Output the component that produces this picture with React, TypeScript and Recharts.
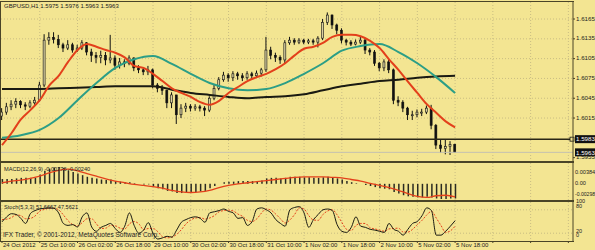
import React from 'react';
import {
  ComposedChart, Bar, Line, XAxis, YAxis, CartesianGrid, ReferenceLine,
} from 'recharts';

// GBPUSD H1, drawn as 2-hour bars (index 0 = 24 Oct 18:00, index 96 = 5 Nov 18:00)
const timeLabels = [
  '24 Oct 2012', '25 Oct 10:00', '26 Oct 02:00', '26 Oct 18:00', '29 Oct 10:00', '30 Oct 02:00',
  '30 Oct 18:00', '31 Oct 10:00', '1 Nov 02:00', '1 Nov 18:00', '2 Nov 10:00', '5 Nov 02:00', '5 Nov 18:00',
];
const labelStep = 8;

const firstOpen = 1.6018;
const closes = [
  1.6024, 1.6032, 1.6036, 1.6040, 1.6035, 1.6033, 1.6038, 1.6042, 1.6065, 1.6133,
  1.6137, 1.6134, 1.6126, 1.6121, 1.6126, 1.6118, 1.6121, 1.6129, 1.6115, 1.6110,
  1.6107, 1.6110, 1.6103, 1.6106, 1.6095, 1.6100, 1.6098, 1.6106, 1.6091, 1.6088,
  1.6085, 1.6088, 1.6065, 1.6060, 1.6057, 1.6038, 1.6050, 1.6020, 1.6030, 1.6033,
  1.6030, 1.6032, 1.6030, 1.6027, 1.6045, 1.6060, 1.6073, 1.6080, 1.6076, 1.6082,
  1.6079, 1.6076, 1.6082, 1.6079, 1.6083, 1.6088, 1.6118, 1.6110, 1.6107, 1.6103,
  1.6129, 1.6133, 1.6130, 1.6133, 1.6130, 1.6132, 1.6130, 1.6136, 1.6160, 1.6171,
  1.6156, 1.6148, 1.6133, 1.6130, 1.6127, 1.6130, 1.6133, 1.6118, 1.6115, 1.6098,
  1.6091, 1.6100, 1.6088, 1.6042, 1.6039, 1.6030, 1.6020, 1.6020, 1.6024, 1.6024,
  1.6030, 1.6004, 1.5974, 1.5969, 1.5972, 1.5975, 1.5963,
];
const highs = [
  1.6030, 1.6038, 1.6042, 1.6045, 1.6042, 1.6039, 1.6042, 1.6047, 1.6070, 1.6142,
  1.6145, 1.6145, 1.6141, 1.6129, 1.6133, 1.6129, 1.6126, 1.6133, 1.6130, 1.6120,
  1.6115, 1.6117, 1.6115, 1.6141, 1.6110, 1.6106, 1.6104, 1.6110, 1.6107, 1.6095,
  1.6092, 1.6094, 1.6090, 1.6068, 1.6065, 1.6058, 1.6054, 1.6050, 1.6036, 1.6038,
  1.6036, 1.6036, 1.6035, 1.6033, 1.6048, 1.6065, 1.6077, 1.6085, 1.6083, 1.6086,
  1.6085, 1.6083, 1.6086, 1.6085, 1.6087, 1.6091, 1.6138, 1.6123, 1.6114, 1.6110,
  1.6133, 1.6138, 1.6136, 1.6136, 1.6135, 1.6135, 1.6135, 1.6139, 1.6165, 1.6175,
  1.6172, 1.6158, 1.6151, 1.6135, 1.6133, 1.6134, 1.6138, 1.6136, 1.6121, 1.6118,
  1.6100, 1.6104, 1.6104, 1.6090, 1.6048, 1.6042, 1.6032, 1.6026, 1.6028, 1.6029,
  1.6034, 1.6035, 1.6006, 1.5982, 1.5982, 1.5980, 1.5976,
];
const lows = [
  1.6012, 1.6020, 1.6027, 1.6030, 1.6030, 1.6027, 1.6030, 1.6035, 1.6040, 1.6062,
  1.6126, 1.6128, 1.6121, 1.6115, 1.6118, 1.6114, 1.6115, 1.6118, 1.6110, 1.6100,
  1.6098, 1.6098, 1.6095, 1.6098, 1.6088, 1.6090, 1.6092, 1.6095, 1.6086, 1.6083,
  1.6080, 1.6080, 1.6060, 1.6054, 1.6050, 1.6030, 1.6030, 1.6006, 1.6015, 1.6024,
  1.6025, 1.6026, 1.6025, 1.6018, 1.6024, 1.6042, 1.6057, 1.6070, 1.6070, 1.6071,
  1.6073, 1.6071, 1.6073, 1.6074, 1.6076, 1.6078, 1.6085, 1.6104, 1.6100, 1.6097,
  1.6098, 1.6126, 1.6126, 1.6127, 1.6127, 1.6127, 1.6126, 1.6122, 1.6133, 1.6156,
  1.6150, 1.6142, 1.6128, 1.6125, 1.6124, 1.6125, 1.6127, 1.6112, 1.6110, 1.6094,
  1.6086, 1.6086, 1.6083, 1.6036, 1.6033, 1.6024, 1.6012, 1.6012, 1.6016, 1.6018,
  1.6021, 1.5998, 1.5968, 1.5962, 1.5960, 1.5959, 1.5963,
];

// moving averages: fast read every 2 bars, mid/slow every 4 bars
const maFast = [
  1.5974, 1.5992, 1.6013, 1.6027, 1.6042, 1.6064, 1.6079, 1.6100, 1.6118, 1.6127,
  1.6123, 1.6118, 1.6114, 1.6107, 1.6094, 1.6091, 1.6082, 1.6071, 1.6060, 1.6053,
  1.6047, 1.6039, 1.6035, 1.6041, 1.6053, 1.6062, 1.6071, 1.6077, 1.6082, 1.6089,
  1.6098, 1.6110, 1.6120, 1.6123, 1.6129, 1.6138, 1.6141, 1.6141, 1.6139, 1.6132,
  1.6121, 1.6104, 1.6088, 1.6070, 1.6053, 1.6036, 1.6023, 1.6010, 1.6001,
];
const maMid = [
  1.5985, 1.5989, 1.5997, 1.6015, 1.6042, 1.6068, 1.6091, 1.6104, 1.6109, 1.6097,
  1.6082, 1.6068, 1.6060, 1.6057, 1.6059, 1.6068, 1.6082, 1.6098, 1.6117, 1.6124,
  1.6127, 1.6115, 1.6098, 1.6077, 1.6053,
];
const maSlow = [
  1.6059, 1.6059, 1.6059, 1.6060, 1.6061, 1.6062, 1.6063, 1.6063, 1.6063, 1.6058,
  1.6053, 1.6050, 1.6047, 1.6045, 1.6047, 1.6048, 1.6051, 1.6057, 1.6063, 1.6067,
  1.6071, 1.6073, 1.6076, 1.6078, 1.6079,
];
const levelLine = 1.5983;
const bidPrice = 1.5963;
const priceTicks = [1.6165, 1.6135, 1.6105, 1.6075, 1.6045, 1.6015, 1.5955];

const macdMain = [
  0.0009, 0.0009, 0.0009, 0.0010, 0.0011, 0.0011, 0.0011, 0.0011, 0.0017, 0.0024,
  0.0028, 0.0030, 0.0031, 0.0029, 0.0025, 0.0022, 0.0019, 0.0016, 0.0013, 0.0011,
  0.0010, 0.0008, 0.0007, 0.0008, 0.0005, 0.0004, 0.0003, 0.0003, 0.0001, 0.0000,
  -0.0001, -0.0001, -0.0005, -0.0008, -0.0010, -0.0013, -0.0014, -0.0017, -0.0017, -0.0016,
  -0.0016, -0.0015, -0.0014, -0.0013, -0.0008, -0.0004, 0.0000, 0.0003, 0.0004, 0.0004,
  0.0005, 0.0005, 0.0005, 0.0005, 0.0005, 0.0006, 0.0010, 0.0011, 0.0011, 0.0010,
  0.0011, 0.0013, 0.0013, 0.0013, 0.0012, 0.0012, 0.0011, 0.0011, 0.0012, 0.0013,
  0.0012, 0.0010, 0.0008, 0.0005, 0.0003, 0.0001, 0.0000, -0.0002, -0.0004, -0.0006,
  -0.0008, -0.0009, -0.0010, -0.0015, -0.0018, -0.0021, -0.0023, -0.0024, -0.0025, -0.0025,
  -0.0024, -0.0025, -0.0027, -0.0028, -0.0028, -0.0027, -0.0027,
];
// signal read every 2 bars
const macdSignal = [
  0.0002, 0.0005, 0.0007, 0.0010, 0.0014, 0.0020, 0.0025, 0.0027, 0.0024, 0.0019,
  0.0014, 0.0009, 0.0005, 0.0002, -0.0001, -0.0003, -0.0005, -0.0008, -0.0012, -0.0015,
  -0.0016, -0.0015, -0.0012, -0.0007, -0.0003, 0.0000, 0.0002, 0.0004, 0.0006, 0.0008,
  0.0010, 0.0012, 0.0013, 0.0013, 0.0013, 0.0012, 0.0011, 0.0008, 0.0005, 0.0001,
  -0.0003, -0.0007, -0.0012, -0.0018, -0.0023, -0.0025, -0.0022, -0.0021, -0.0024,
];
const macdTicks = [0.00384, 0, -0.00298];

const stochMain = [
  49, 62, 70, 68, 58, 45, 70, 78, 82, 84,
  85, 84, 72, 45, 40, 42, 36, 62, 72, 36,
  25, 35, 40, 45, 32, 22, 38, 72, 40, 20,
  28, 47, 20, 5, 8, 12, 10, 28, 48, 55,
  60, 62, 58, 48, 72, 75, 78, 82, 76, 72,
  58, 60, 40, 50, 82, 85, 80, 72, 55, 45,
  38, 80, 86, 88, 72, 35, 55, 68, 80, 82,
  78, 42, 25, 22, 35, 62, 38, 35, 30, 28,
  25, 22, 45, 30, 25, 15, 30, 45, 50, 65,
  85, 78, 15, 15, 25, 38, 52,
];
const stochSignal = [
  55, 56, 60, 67, 65, 57, 58, 64, 77, 81,
  84, 84, 80, 67, 52, 42, 39, 47, 57, 57,
  44, 32, 33, 40, 39, 33, 31, 44, 50, 44,
  29, 32, 32, 24, 11, 8, 10, 17, 29, 44,
  54, 59, 60, 56, 59, 65, 75, 78, 79, 77,
  69, 63, 53, 50, 57, 72, 82, 79, 69, 57,
  46, 54, 68, 85, 82, 65, 54, 53, 68, 77,
  80, 67, 48, 30, 27, 40, 45, 45, 34, 31,
  28, 25, 31, 32, 33, 23, 23, 30, 42, 53,
  67, 76, 59, 40, 22, 26, 38,
];
const stochTicks = [100, 80, 20, 0];

const rows = closes.map((close, i) => ({
  i,
  open: i === 0 ? firstOpen : closes[i - 1],
  high: highs[i],
  low: lows[i],
  close,
  range: [lows[i], highs[i]],
  fast: i % 2 === 0 ? maFast[i / 2] : null,
  mid: i % 4 === 0 ? maMid[i / 4] : null,
  slow: i % 4 === 0 ? maSlow[i / 4] : null,
  macd: macdMain[i],
  signal: i % 2 === 0 ? macdSignal[i / 2] : null,
  k: stochMain[i],
  d: stochSignal[i],
}));

const BG = '#F3E592';
const GRID = '#c9bd83';
const FRAME = '#4a4427';
const RED = '#E3401B';
const TEAL = '#2C9E86';
const FONT = '"Liberation Sans", Arial, sans-serif';
const W = 595;
const AXIS_W = 22;
const xDomain: [number, number] = [-0.21, 120.98];
const gridX = Array.from({ length: 16 }, (_, k) => k * labelStep);

const Candle = (props: any) => {
  const { x, y, width, height, payload } = props;
  if (!payload || height == null) return null;
  const top = Math.min(y, y + height);
  const h = Math.abs(height);
  const { open, close, high, low } = payload;
  const py = (p: number) => top + ((high - p) / (high - low || 1)) * h;
  const cx = x + width / 2;
  const b1 = py(Math.max(open, close));
  const b2 = py(Math.min(open, close));
  const up = close >= open;
  return (
    <g>
      <line x1={cx} x2={cx} y1={top} y2={top + h} stroke="#111" strokeWidth={1} />
      <rect x={x} y={b1} width={width} height={Math.max(b2 - b1, 1)}
        fill={up ? '#d9d0a0' : '#111'} stroke="#111" strokeWidth={0.6} />
    </g>
  );
};

const PriceTick = ({ x, y, payload }: any) => (
  <text x={x} y={y} dominantBaseline="middle" fontSize={6.2} fontFamily={FONT} fill="#222">
    {payload.value.toFixed(4)}
  </text>
);

const macdOffset = (v: number) => (v > 0 ? 10 : v < 0 ? -5 : 0);
const MacdTick = ({ x, y, payload }: any) => (
  <text x={x - 1} y={y + macdOffset(payload.value)} dominantBaseline="middle"
    fontSize={payload.value < 0 ? 5.1 : 5.6} fontFamily={FONT} fill="#222">
    {payload.value === 0 ? '0.00' : payload.value.toFixed(5)}
  </text>
);

const stochOffset: Record<number, number> = { 100: 0, 80: -3, 20: -2, 0: -5.5 };
const StochTick = ({ x, y, payload }: any) => (
  <text x={x} y={y + (stochOffset[payload.value] ?? 0)} dominantBaseline="middle" fontSize={5.5} fontFamily={FONT} fill="#222">
    {payload.value}
  </text>
);

const TimeTick = ({ x, y, payload }: any) => {
  const label = timeLabels[payload.value / labelStep];
  if (!label) return null;
  return (
    <text x={x + 1} y={y + 1} dominantBaseline="middle" fontSize={6} fontFamily={FONT} fill="#222">
      {label}
    </text>
  );
};

const BoxLabel = ({ viewBox, text, marker }: any) => {
  if (!viewBox) return null;
  const right = viewBox.x + viewBox.width;
  const y = viewBox.y;
  return (
    <g>
      {marker && <rect x={right - 3} y={y - 2} width={4} height={4} fill={BG} stroke="#111" strokeWidth={0.8} />}
      <rect x={right + 2} y={y - 4} width={21} height={8} fill="#111" />
      <text x={right + 3} y={y + 0.5} dominantBaseline="middle" fontSize={6.2} fontFamily={FONT} fill="#fff">
        {text}
      </text>
    </g>
  );
};

const txt = (left: number, top: number, size: number, s: string) => (
  <div style={{
    position: 'absolute', left, top, fontSize: size, lineHeight: `${size + 2}px`,
    fontFamily: FONT, color: '#222', whiteSpace: 'nowrap', pointerEvents: 'none',
  }}>{s}</div>
);

const rule = (left: number, top: number, width: number, height: number) => (
  <div style={{ position: 'absolute', left, top, width, height, background: FRAME }} />
);

export default function App() {
  return (
    <div style={{ position: 'absolute', left: 0, top: 0, width: W, height: 250, background: BG, overflow: 'hidden' }}>
      {/* price window */}
      <div style={{ position: 'absolute', left: 0, top: 0 }}>
        <ComposedChart width={W} height={163} data={rows} margin={{ top: 2, right: 0, bottom: 1, left: 1 }}>
          <CartesianGrid stroke={GRID} strokeDasharray="1 2" verticalValues={gridX}
            horizontalValues={priceTicks.slice(0, 6)} />
          <XAxis dataKey="i" type="number" domain={xDomain} ticks={gridX} hide allowDataOverflow />
          <YAxis orientation="right" width={AXIS_W} domain={[1.59484, 1.61908]} ticks={priceTicks}
            interval={0} allowDataOverflow tick={<PriceTick />} tickSize={2} tickMargin={1}
            axisLine={{ stroke: FRAME }} tickLine={{ stroke: FRAME }} />
          <ReferenceLine y={bidPrice} stroke="#c4c1b0" strokeWidth={1}
            label={<BoxLabel text={bidPrice.toFixed(4)} />} />
          <ReferenceLine y={levelLine} stroke="#2a2716" strokeWidth={1.5}
            label={<BoxLabel text={levelLine.toFixed(4)} marker />} />
          <Bar dataKey="range" barSize={2} shape={<Candle />} isAnimationActive={false} />
          <Line dataKey="slow" type="monotone" stroke="#1a1a12" strokeWidth={2} dot={false} connectNulls isAnimationActive={false} />
          <Line dataKey="mid" type="monotone" stroke={TEAL} strokeWidth={2} dot={false} connectNulls isAnimationActive={false} />
          <Line dataKey="fast" type="monotone" stroke={RED} strokeWidth={2} dot={false} connectNulls isAnimationActive={false} />
        </ComposedChart>
      </div>

      {/* MACD window */}
      <div style={{ position: 'absolute', left: 0, top: 163 }}>
        <ComposedChart width={W} height={37} data={rows} margin={{ top: 0, right: 0, bottom: 0, left: 1 }}>
          <CartesianGrid stroke={GRID} strokeDasharray="1 2" verticalValues={gridX} horizontal={false} />
          <XAxis dataKey="i" type="number" domain={xDomain} ticks={gridX} hide allowDataOverflow />
          <YAxis orientation="right" width={AXIS_W} domain={[-0.00298, 0.00384]} ticks={macdTicks}
            interval={0} allowDataOverflow tick={<MacdTick />} tickSize={2} tickMargin={1}
            axisLine={{ stroke: FRAME }} tickLine={false} />
          <Bar dataKey="macd" barSize={1.5} fill="#2a2a22" isAnimationActive={false} />
          <Line dataKey="signal" type="monotone" stroke={RED} strokeWidth={1.3} dot={false} connectNulls isAnimationActive={false} />
        </ComposedChart>
      </div>

      {/* Stochastic window */}
      <div style={{ position: 'absolute', left: 0, top: 198 }}>
        <ComposedChart width={W} height={52} data={rows} margin={{ top: 4, right: 0, bottom: 0, left: 1 }}>
          <CartesianGrid stroke={GRID} strokeDasharray="1 2" verticalValues={gridX} horizontalValues={[80, 20]} />
          <XAxis dataKey="i" type="number" domain={xDomain} ticks={gridX} height={9} allowDataOverflow
            tick={<TimeTick />} tickSize={2} tickMargin={1} axisLine={false} tickLine={{ stroke: FRAME }} interval={0} />
          <YAxis orientation="right" width={AXIS_W} domain={[0, 100]} ticks={stochTicks}
            interval={0} tick={<StochTick />} tickSize={2} tickMargin={1}
            axisLine={{ stroke: FRAME }} tickLine={false} />
          <Line dataKey="d" type="monotone" stroke={RED} strokeWidth={1} strokeDasharray="2 1.5" dot={false} isAnimationActive={false} />
          <Line dataKey="k" type="monotone" stroke="#1a1a12" strokeWidth={1} dot={false} isAnimationActive={false} />
        </ComposedChart>
      </div>

      {/* window frames */}
      {rule(0, 1, 574, 1)}
      {rule(0, 1, 1, 240)}
      {rule(0, 161, 574, 2)}
      {rule(0, 200, 574, 2)}
      {rule(0, 241, 574, 1)}

      {txt(4, 2, 6, 'GBPUSD,H1  1.5975 1.5976 1.5963 1.5963')}
      {txt(4, 166, 5.6, 'MACD(12,26,9) -0.00276 -0.00240')}
      {txt(4, 204, 5.6, 'Stoch(5,3,3) 51.6667 47.5621')}
      {txt(3, 231, 6.5, 'IFX Trader, \u00A9 2001-2012, MetaQuotes Software Corp.')}
    </div>
  );
}
